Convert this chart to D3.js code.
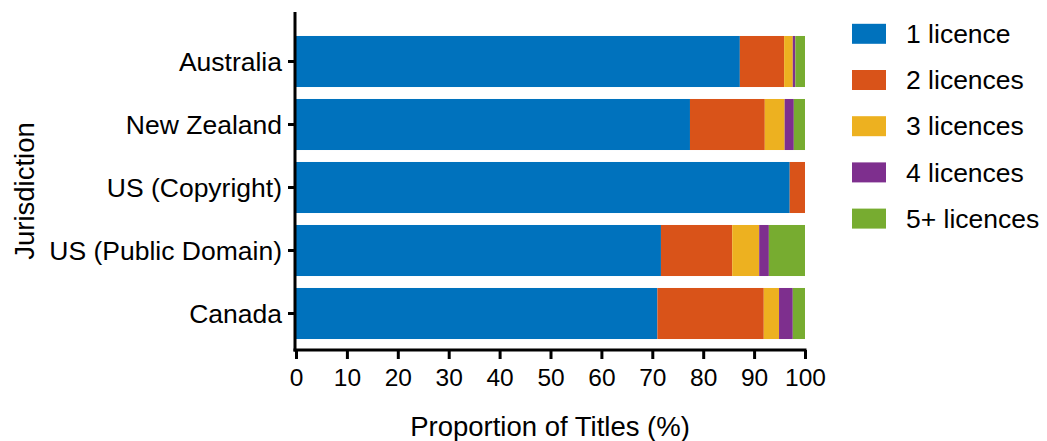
<!DOCTYPE html>
<html><head><meta charset="utf-8">
<script src="https://cdn.jsdelivr.net/npm/d3@7"></script>
<style>
body{margin:0;background:#fff;}
text{font-family:"Liberation Sans",Arial,sans-serif;fill:#000;}
</style></head>
<body>
<svg id="c" width="1047" height="441"></svg>
<script>
const categories = ["Australia","New Zealand","US (Copyright)","US (Public Domain)","Canada"];
const seriesNames = ["1 licence","2 licences","3 licences","4 licences","5+ licences"];
const colors = ["#0072BD","#D95319","#EDB120","#7E2F8E","#77AC30"];
const s1 = [87.2, 77.4, 97.0, 71.7, 71.0];
const s2 = [8.7, 14.7, 3.0, 14.0, 20.9];
const s3 = [1.7, 3.9, 0, 5.3, 3.0];
const s4 = [0.5, 1.8, 0, 1.9, 2.7];
const s5 = [1.9, 2.2, 0, 7.1, 2.4];
const xTicks = [0,10,20,30,40,50,60,70,80,90,100];

const svg = d3.select("#c");
const x = d3.scaleLinear().domain([0,100]).range([296,805]);
const y = d3.scaleBand().domain(categories).range([30,345]).paddingInner(0.19).paddingOuter(0.095);

const rows = categories.map((c,i)=>({cat:c, "1 licence":s1[i], "2 licences":s2[i], "3 licences":s3[i], "4 licences":s4[i], "5+ licences":s5[i]}));
const stack = d3.stack().keys(seriesNames)(rows);

stack.forEach((layer,k)=>{
  svg.append("g").attr("fill",colors[k]).selectAll("rect").data(layer).join("rect")
    .attr("x",d=>x(d[0])).attr("width",d=>Math.max(0,x(d[1])-x(d[0])))
    .attr("y",d=>y(d.data.cat)).attr("height",y.bandwidth());
});

// axes
const yAxis = svg.append("g").attr("transform","translate(295,0)")
  .call(d3.axisLeft(y).tickSize(7).tickPadding(6).tickSizeOuter(0));
yAxis.select(".domain").remove();
yAxis.selectAll("line").attr("stroke","#000").attr("stroke-width",3);
yAxis.selectAll("text").style("font-size","26.5px").attr("dy","0.35em");
svg.append("line").attr("x1",295).attr("x2",295).attr("y1",12).attr("y2",351.5).attr("stroke","#000").attr("stroke-width",3);

const xAxis = svg.append("g").attr("transform","translate(0,350)")
  .call(d3.axisBottom(x).tickValues(xTicks).tickSize(9).tickPadding(10).tickSizeOuter(0));
xAxis.select(".domain").remove();
xAxis.selectAll("line").attr("stroke","#000").attr("stroke-width",3);
xAxis.selectAll("text").style("font-size","24.5px");
svg.append("line").attr("x1",293.5).attr("x2",806.5).attr("y1",350).attr("y2",350).attr("stroke","#000").attr("stroke-width",3);

svg.append("text").attr("x",550).attr("y",436).attr("text-anchor","middle").style("font-size","27.5px").text("Proportion of Titles (%)");
svg.append("text").attr("transform","translate(34,191) rotate(-90)").attr("text-anchor","middle").style("font-size","27.5px").text("Jurisdiction");

// legend
const lg = svg.append("g");
seriesNames.forEach((n,i)=>{
  const cy = 33.8 + i*46.2;
  lg.append("rect").attr("x",852).attr("y",cy-10).attr("width",34).attr("height",20).attr("fill",colors[i]);
  lg.append("text").attr("x",906).attr("y",cy).attr("dy","0.35em").style("font-size","26.5px").text(n);
});
</script>
</body></html>
